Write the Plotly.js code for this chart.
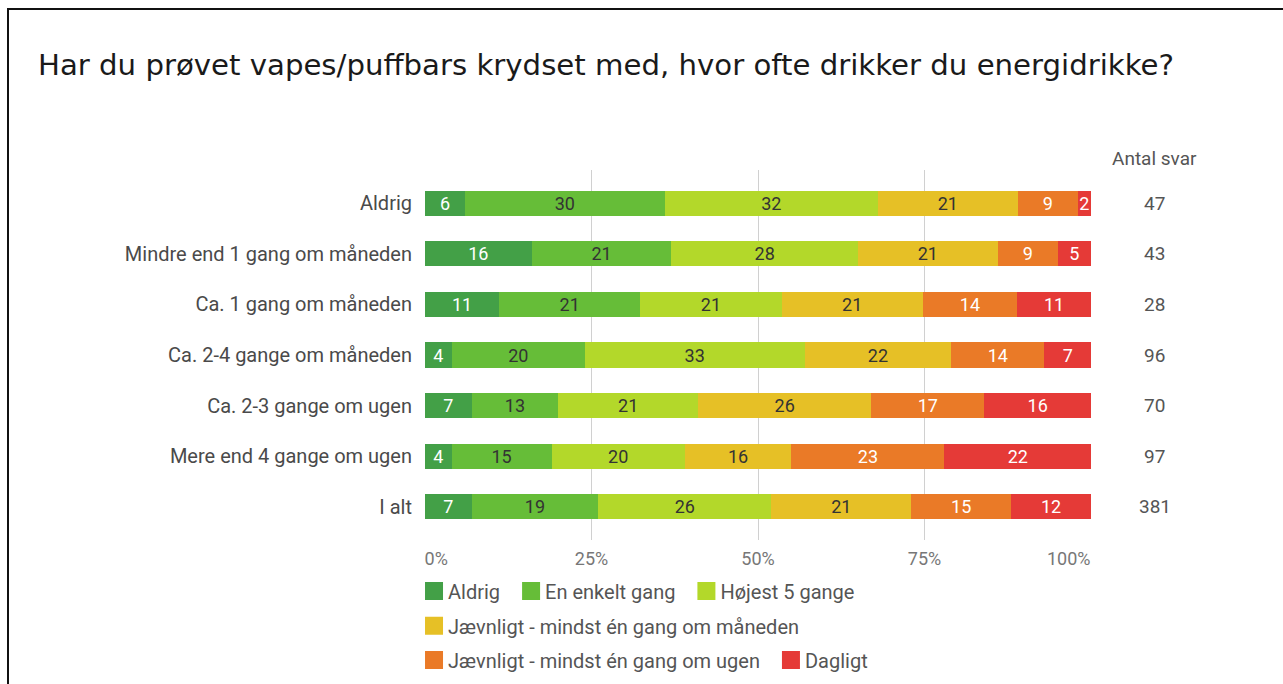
<!DOCTYPE html>
<html>
<head>
<meta charset="utf-8">
<script src="https://cdn.plot.ly/plotly-3.0.1.min.js"></script>
<style>
  html, body { margin: 0; padding: 0; background: #fff; }
  #wrap { position: relative; width: 1283px; height: 684px; overflow: hidden; }
  #chart { position: absolute; left: 0; top: 0; width: 1283px; height: 684px; }
  #frame { position: absolute; left: 7px; top: 8px; width: 1400px; height: 800px;
           border-left: 2px solid #111; border-top: 2px solid #111; pointer-events: none; }
  .legendpoints path { transform: translate(26px, 0px) scale(1.5); }
</style>
</head>
<body>
<div id="wrap">
  <div id="chart"></div>
  <div id="frame"></div>
</div>
<script>
const categories = [
  'Aldrig',
  'Mindre end 1 gang om måneden',
  'Ca. 1 gang om måneden',
  'Ca. 2-4 gange om måneden',
  'Ca. 2-3 gange om ugen',
  'Mere end 4 gange om ugen',
  'I alt'
];
const seriesNames = [
  'Aldrig',
  'En enkelt gang',
  'Højest 5 gange',
  'Jævnligt - mindst én gang om måneden',
  'Jævnligt - mindst én gang om ugen',
  'Dagligt'
];
const aldrig  = [6, 16, 11, 4, 7, 4, 7];
const enkelt  = [30, 21, 21, 20, 13, 15, 19];
const hojest  = [32, 28, 21, 33, 21, 20, 26];
const maaned  = [21, 21, 21, 22, 26, 16, 21];
const ugen    = [9, 9, 14, 14, 17, 23, 15];
const dagligt = [2, 5, 11, 7, 16, 22, 12];
const antalSvar = [47, 43, 28, 96, 70, 97, 381];
const antalHeader = 'Antal svar';
const xTickVals = [0, 25, 50, 75, 100];
const xTickText = ['0%', '25%', '50%', '75%', '100%'];
const title = 'Har du prøvet vapes/puffbars krydset med, hvor ofte drikker du energidrikke?';

const seriesValues = [aldrig, enkelt, hojest, maaned, ugen, dagligt];
const colors = ['#43a047', '#66bd38', '#b3d82a', '#e6c026', '#ea7a27', '#e53a37'];
const textColors = ['#ffffff', '#333333', '#333333', '#333333', '#ffffff', '#ffffff'];
const legendRow = ['legend', 'legend', 'legend', 'legend2', 'legend3', 'legend3'];

// first tick label starts at its gridline, last ends at it (padding only)
const NB = '\u00a0';
const xTickShown = xTickText.map((t, i) => {
  if (i === 0) return NB.repeat(5) + t;
  if (i === xTickText.length - 1) return t + NB.repeat(10);
  return t;
});

const traces = seriesValues.map((vals, i) => ({
  type: 'bar',
  orientation: 'h',
  name: seriesNames[i],
  legend: legendRow[i],
  y: categories,
  x: vals,
  text: vals.map(String),
  texttemplate: '%{text}',
  textposition: 'inside',
  insidetextanchor: 'middle',
  textangle: 0,
  constraintext: 'none',
  textfont: { family: 'Roboto, sans-serif', size: 18, color: textColors[i] },
  marker: { color: colors[i], line: { width: 0 } },
  hoverinfo: 'skip'
}));

const annotations = categories.map((c, i) => ({
  xref: 'paper', yref: 'y',
  x: 1.096, y: c,
  text: String(antalSvar[i]),
  showarrow: false,
  xanchor: 'center', yanchor: 'middle',
  font: { family: 'Roboto, sans-serif', size: 19, color: '#555' }
}));
annotations.push({
  xref: 'paper', yref: 'paper',
  x: 1.096, y: 1, yshift: 12,
  text: antalHeader,
  showarrow: false,
  xanchor: 'center', yanchor: 'middle',
  font: { family: 'Roboto, sans-serif', size: 19, color: '#555' }
});

const legendBase = {
  orientation: 'h',
  x: -0.0255, xanchor: 'left',
  yanchor: 'middle',
  traceorder: 'normal',
  bgcolor: 'rgba(0,0,0,0)',
  font: { family: 'Roboto, sans-serif', size: 20, color: '#555' },
  itemclick: false,
  itemdoubleclick: false
};

const layout = {
  width: 1283,
  height: 684,
  paper_bgcolor: '#ffffff',
  plot_bgcolor: '#ffffff',
  margin: { l: 425, r: 192, t: 170, b: 144, pad: 0, autoexpand: false },
  barmode: 'stack',
  barnorm: 'percent',
  bargap: 0.505,
  title: {
    text: title,
    font: { family: 'DejaVu Sans, Verdana, sans-serif', size: 29.2, color: '#1a1a1a' },
    xref: 'container', yref: 'container',
    x: 0.0296, xanchor: 'left',
    y: 0.906, yanchor: 'middle'
  },
  xaxis: {
    range: [0, 100],
    tickmode: 'array',
    tickvals: xTickVals,
    ticktext: xTickShown,
    showgrid: true,
    gridcolor: '#d0d0d0',
    gridwidth: 1,
    zeroline: false,
    showline: false,
    ticks: '',
    ticklabelstandoff: 6,
    tickfont: { family: 'Roboto, sans-serif', size: 18, color: '#777' },
    fixedrange: true
  },
  yaxis: {
    type: 'category',
    categoryorder: 'array',
    categoryarray: categories,
    range: [6.66, -0.66],
    showgrid: false,
    zeroline: false,
    showline: false,
    ticks: '',
    ticklabelstandoff: 12,
    tickfont: { family: 'Roboto, sans-serif', size: 20, color: '#4a4a4a' },
    fixedrange: true
  },
  showlegend: true,
  legend: Object.assign({}, legendBase, { y: -0.138 }),
  legend2: Object.assign({}, legendBase, { y: -0.232 }),
  legend3: Object.assign({}, legendBase, { y: -0.324 }),
  annotations: annotations
};

Plotly.newPlot('chart', traces, layout, { displayModeBar: false, staticPlot: true });
</script>
</body>
</html>
